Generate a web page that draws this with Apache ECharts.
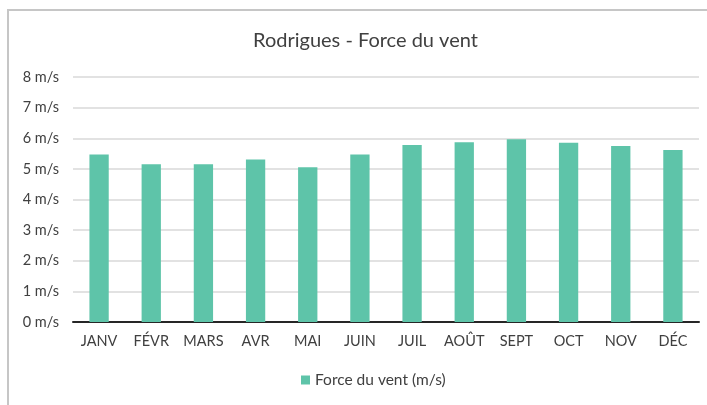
<!DOCTYPE html>
<html>
<head>
<meta charset="utf-8">
<script src="https://cdn.jsdelivr.net/npm/echarts@6/dist/echarts.min.js"></script>
<style>
  html, body { margin: 0; padding: 0; background: #fff; }
  #chart { width: 707px; height: 405px; position: relative; }
  .frame {
    position: absolute; left: 7px; top: 9px; width: 720px; height: 420px;
    border-left: 2px solid #c6c6c6; border-top: 2px solid #c6c6c6;
    pointer-events: none;
  }
</style>
</head>
<body>
<div style="position: relative; width: 707px; height: 405px; overflow: hidden;">
  <div id="chart"></div>
  <div class="frame"></div>
</div>
<script>
// mois et force moyenne du vent (m/s)
const months = ['JANV', 'FÉVR', 'MARS', 'AVR', 'MAI', 'JUIN', 'JUIL', 'AOÛT', 'SEPT', 'OCT', 'NOV', 'DÉC']
const windSpeed = [5.47, 5.15, 5.15, 5.31, 5.05, 5.47, 5.78, 5.87, 5.97, 5.85, 5.75, 5.62]
const seriesName = 'Force du vent (m/s)'
const titleText = 'Rodrigues - Force du vent'

const font = 'Lato, "Open Sans", sans-serif'
const chart = echarts.init(document.getElementById('chart'))

chart.setOption({
  animation: false,
  title: {
    text: titleText,
    left: 248,
    top: 26,
    textStyle: { fontFamily: font, fontSize: 20, fontWeight: 'normal', color: '#404040' },
  },
  legend: {
    bottom: 12,
    left: 296,
    itemWidth: 9,
    itemHeight: 9,
    itemGap: 6,
    textStyle: { fontFamily: font, fontSize: 15.5, color: '#404040' },
    data: [{ name: seriesName, icon: 'rect' }],
  },
  grid: { left: 73, right: 8, top: 77, bottom: 83 },
  xAxis: {
    type: 'category',
    data: months,
    axisTick: { show: false },
    axisLine: { lineStyle: { color: '#262626', width: 2 } },
    axisLabel: { fontFamily: font, fontSize: 14.5, color: '#404040', margin: 12, interval: 0 },
  },
  yAxis: {
    type: 'value',
    min: 0,
    max: 8,
    interval: 1,
    axisLabel: {
      fontFamily: font, fontSize: 14.5, color: '#404040', margin: 14,
      formatter: v => v + ' m/s',
    },
    splitLine: { lineStyle: { color: '#d9d9d9', width: 1.5 } },
  },
  series: [{
    name: seriesName,
    type: 'bar',
    data: windSpeed,
    barWidth: '37%',
    itemStyle: { color: '#5ec4a9' },
  }],
})
</script>
</body>
</html>
